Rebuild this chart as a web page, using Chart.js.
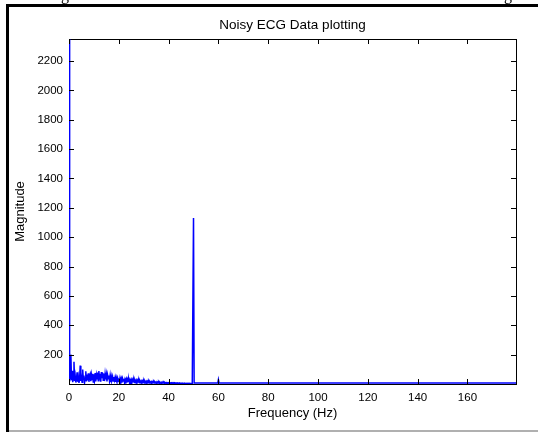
<!DOCTYPE html>
<html>
<head>
<meta charset="utf-8">
<script src="https://cdn.jsdelivr.net/npm/chart.js@4"></script>
<style>
    body { margin: 0; background: #fff; }
    #wrap { position: relative; width: 538px; height: 432px; overflow: hidden; }
    #ecgChart { position: absolute; left: 0; top: 0; }
    .frame-left { position: absolute; left: 6px; top: 4px; width: 3px; height: 428px; background: #000; }
    .frame-top { position: absolute; left: 6px; top: 4px; width: 532px; height: 3px; background: #000; }
    .frame-bottom { position: absolute; left: 9px; top: 430px; width: 529px; height: 2px; background: #b0b0b0; }
    .cut-text { position: absolute; top: -13px; font: 16px 'Liberation Serif', serif; line-height: 16px; color: #000; }
</style>
</head>
<body>
<div id="wrap">
    <canvas id="ecgChart" width="538" height="432"></canvas>
    <div class="cut-text" style="left: 61px;">g</div>
    <div class="cut-text" style="left: 504px;">g</div>
    <div class="frame-left"></div>
    <div class="frame-top"></div>
    <div class="frame-bottom"></div>
</div>
<script>
// Spectrum 0..50 Hz, one value every 0.25 Hz
const freqStep = 0.25;
const lowBandMag = [
    2350, 18, 60, 200, 25, 90, 12, 40, 152, 20, 55, 10, 35, 80, 15, 48, 8, 30, 125, 22,
    45, 12, 98, 30, 58, 10, 40, 86, 18, 65, 25, 72, 15, 55, 68, 20, 62, 30, 70, 14,
    66, 28, 74, 18, 60, 35, 78, 22, 88, 30, 70, 15, 82, 40, 76, 25, 72, 20, 68, 32,
    64, 18, 60, 35, 58, 22, 55, 12, 52, 30, 50, 20, 48, 26, 46, 15, 44, 28, 42, 18,
    40, 14, 42, 24, 38, 10, 37, 20, 36, 12, 34, 22, 35, 9, 32, 18, 31, 11, 30, 16,
    29, 8, 28, 15, 27, 10, 26, 14, 25, 7, 24, 13, 24, 9, 22, 12, 21, 8, 20, 11,
    20, 7, 19, 10, 18, 6, 18, 9, 17, 6, 16, 9, 16, 5, 15, 8, 15, 6, 14, 8,
    14, 5, 13, 7, 13, 5, 12, 7, 12, 4, 11, 6, 11, 5, 10, 6, 10, 4, 9, 6,
    9, 4, 9, 5, 8, 4, 8, 5, 8, 4, 7, 5, 7, 4, 7, 4, 6, 4, 6, 4,
    6, 3, 6, 4, 5, 3, 5, 4, 5, 3, 5, 4, 5, 3, 4, 3, 4, 3, 4, 4,
    1130
];

// Above 50 Hz the spectrum is flat except a small 60 Hz line
const tailFreq = [50.25, 59.75, 60, 60.25, 179.5];
const tailMag = [7, 7, 30, 7, 7];

const xTicks = [0, 20, 40, 60, 80, 100, 120, 140, 160];
const yTicks = [200, 400, 600, 800, 1000, 1200, 1400, 1600, 1800, 2000, 2200];

const chartTitle = 'Noisy ECG Data plotting';
const xTitle = 'Frequency (Hz)';
const yTitle = 'Magnitude';

const points = lowBandMag.map(function(v, i) {
    return { x: i * freqStep, y: v };
}).concat(tailFreq.map(function(f, i) {
    return { x: f, y: tailMag[i] };
}));

// box, inward tick marks and title like a MATLAB axes
const matlabAxes = {
    id: 'matlabAxes',
    beforeDatasetsDraw: function(chart) {
        const ctx = chart.ctx;
        const a = chart.chartArea;
        ctx.save();
        ctx.strokeStyle = '#000';
        ctx.lineWidth = 1;
        ctx.strokeRect(Math.round(a.left) + 0.5, Math.round(a.top) + 0.5,
            Math.round(a.right - a.left), Math.round(a.bottom - a.top));
        ctx.restore();
    },
    afterDatasetsDraw: function(chart) {
        const ctx = chart.ctx;
        const a = chart.chartArea;
        const xs = chart.scales.x;
        const ys = chart.scales.y;
        const len = 5;
        ctx.save();
        ctx.strokeStyle = '#000';
        ctx.lineWidth = 1;
        ctx.beginPath();
        xTicks.forEach(function(v) {
            const px = Math.round(xs.getPixelForValue(v)) + 0.5;
            ctx.moveTo(px, a.bottom);
            ctx.lineTo(px, a.bottom - len);
            ctx.moveTo(px, a.top);
            ctx.lineTo(px, a.top + len);
        });
        yTicks.forEach(function(v) {
            const py = Math.round(ys.getPixelForValue(v)) + 0.5;
            ctx.moveTo(a.left, py);
            ctx.lineTo(a.left + len, py);
            ctx.moveTo(a.right, py);
            ctx.lineTo(a.right - len, py);
        });
        ctx.stroke();

        ctx.fillStyle = '#000';
        ctx.font = '13.5px "Liberation Sans", Arial, sans-serif';
        ctx.textAlign = 'center';
        ctx.textBaseline = 'middle';
        ctx.fillText(chartTitle, (a.left + a.right) / 2, 25.5);
        ctx.restore();
    }
};

const ctx = document.getElementById('ecgChart');
new Chart(ctx, {
    type: 'line',
    data: {
        datasets: [{
            label: 'Magnitude',
            data: points,
            borderColor: '#0000ff',
            borderWidth: 1.5,
            pointRadius: 0,
            tension: 0,
            fill: false
        }]
    },
    options: {
        responsive: false,
        animation: false,
        events: [],
        layout: {
            padding: { left: 0, right: 22, top: 39, bottom: 0 }
        },
        plugins: {
            legend: { display: false },
            tooltip: { enabled: false },
            title: { display: false }
        },
        scales: {
            x: {
                type: 'linear',
                min: 0,
                max: 179.5,
                afterFit: function(scale) { scale.height = 48; },
                afterBuildTicks: function(scale) {
                    scale.ticks = xTicks.map(function(v) { return { value: v }; });
                },
                grid: { display: false, drawTicks: false },
                border: { display: false },
                ticks: {
                    color: '#000',
                    padding: 7,
                    maxRotation: 0,
                    font: { family: '"Liberation Sans", Arial, sans-serif', size: 11.5 },
                    callback: function(v) { return String(v); }
                },
                title: {
                    display: true,
                    text: xTitle,
                    color: '#000',
                    font: { family: '"Liberation Sans", Arial, sans-serif', size: 13 },
                    padding: { top: 0, bottom: 11 }
                }
            },
            y: {
                type: 'linear',
                min: 0,
                max: 2350,
                afterFit: function(scale) { scale.width = 69; },
                afterBuildTicks: function(scale) {
                    scale.ticks = yTicks.map(function(v) { return { value: v }; });
                },
                grid: { display: false, drawTicks: false },
                border: { display: false },
                ticks: {
                    color: '#000',
                    padding: 6,
                    font: { family: '"Liberation Sans", Arial, sans-serif', size: 11.5 },
                    callback: function(v) { return String(v); }
                },
                title: {
                    display: true,
                    text: yTitle,
                    color: '#000',
                    font: { family: '"Liberation Sans", Arial, sans-serif', size: 13 },
                    padding: { top: 13, bottom: 0 }
                }
            }
        }
    },
    plugins: [matlabAxes]
});
</script>
</body>
</html>
